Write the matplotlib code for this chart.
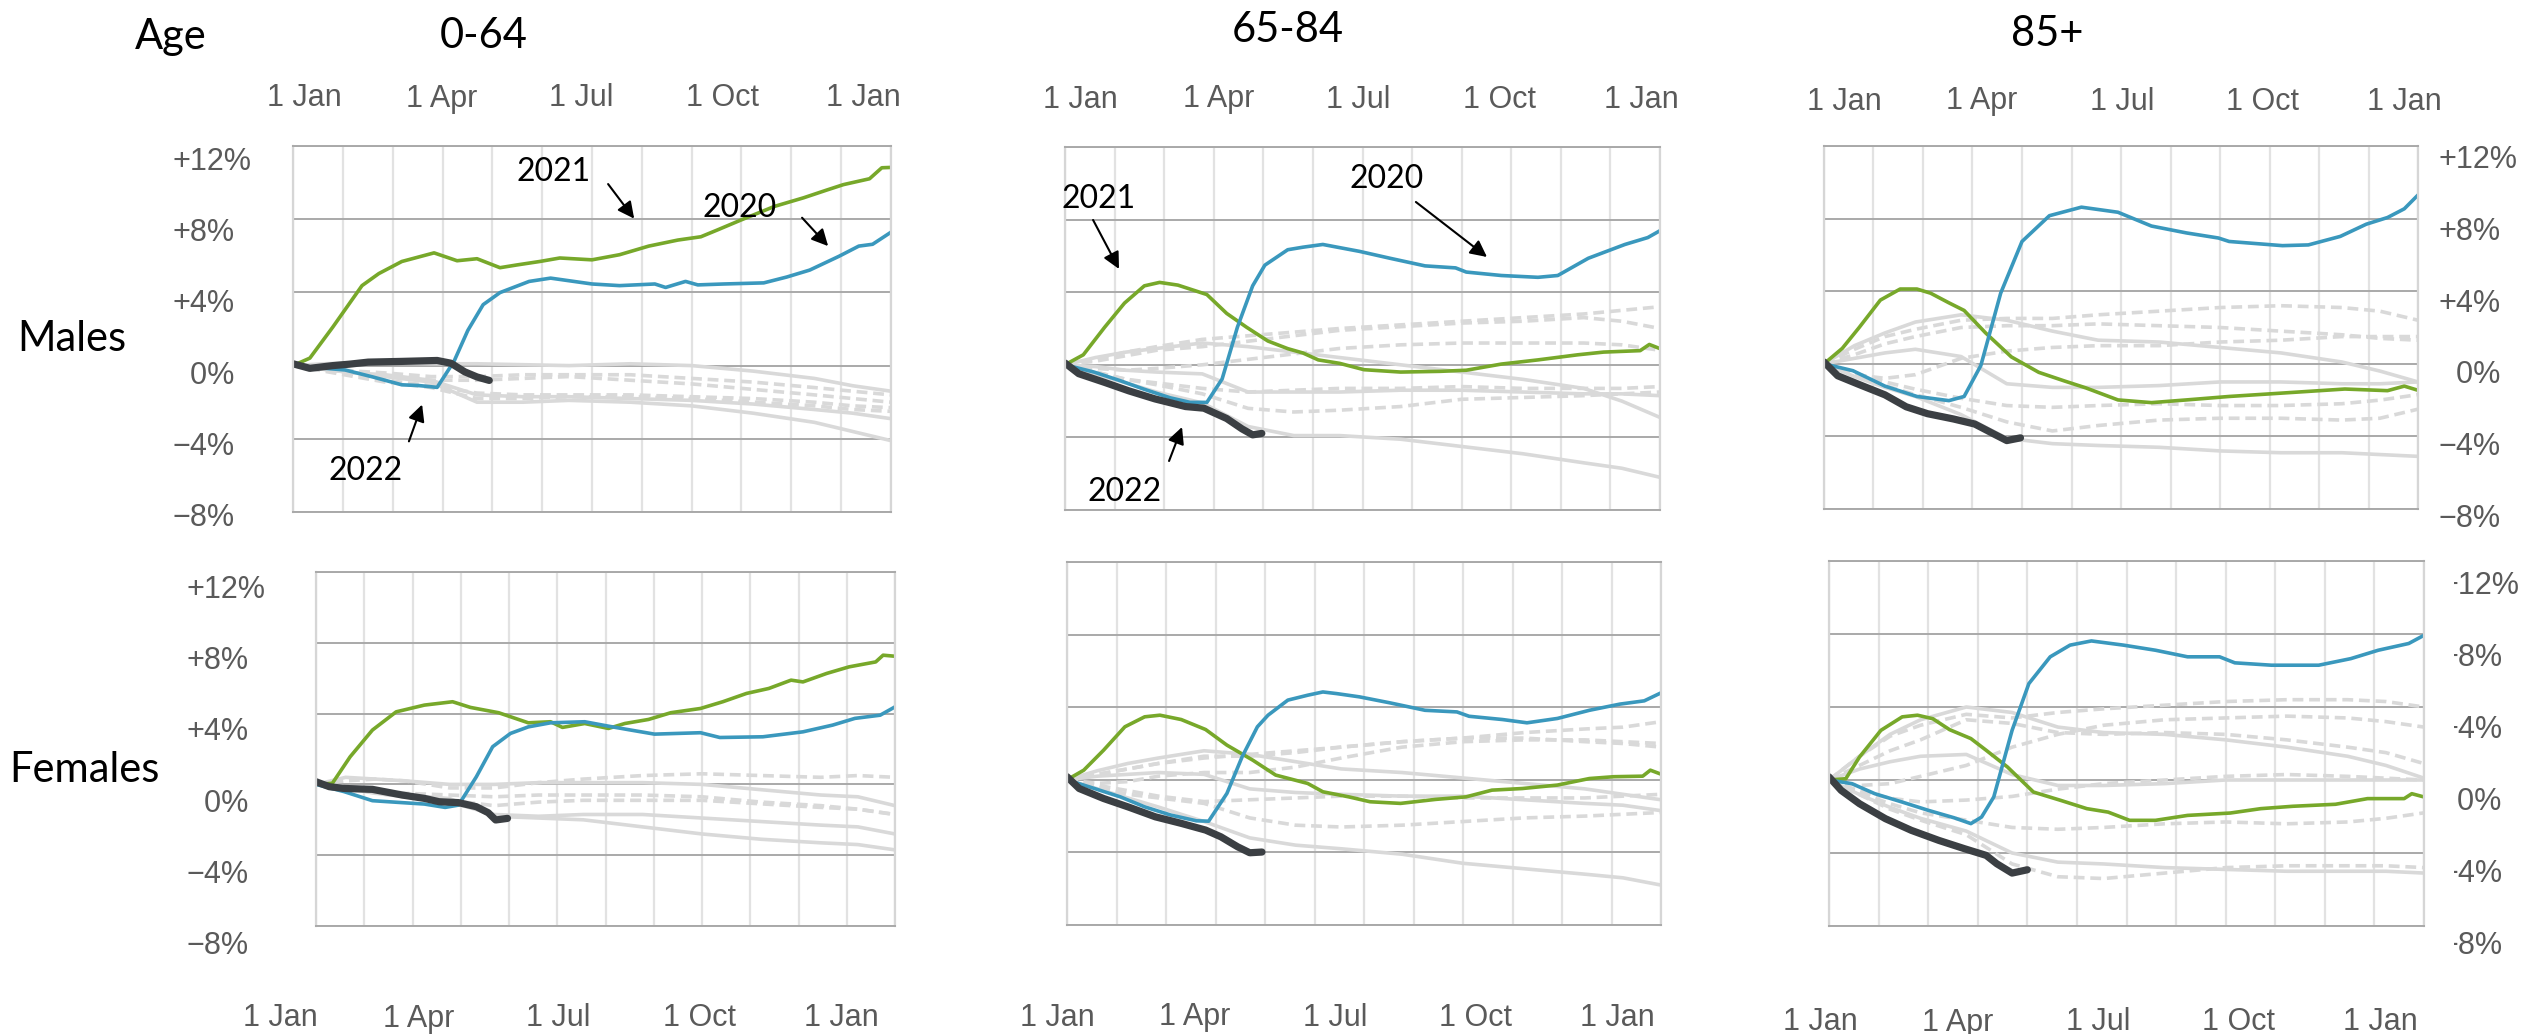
import numpy as np
import matplotlib
matplotlib.use("Agg")
import matplotlib.pyplot as plt
from matplotlib.transforms import Bbox

# Cumulative mortality, % difference from the start of each year.
# Main series are (days since 1 January, percent) pairs.

# ---------------- Males 0-64 ----------------
M064_2020 = [(0, 0.0), (34, -0.24), (52, -0.62), (71, -1.05), (82, -1.09), (94, -1.19), (105, 0.23),
             (114, 1.92), (124, 3.33), (135, 3.99), (154, 4.60), (168, 4.78), (195, 4.46), (213, 4.37),
             (236, 4.46), (243, 4.27), (256, 4.60), (264, 4.41), (281, 4.46), (307, 4.52), (322, 4.84),
             (337, 5.22), (356, 5.97), (369, 6.53), (378, 6.63), (390, 7.29)]
M064_2021 = [(0, 0.0), (11, 0.41), (26, 2.11), (45, 4.37), (56, 5.03), (71, 5.69), (92, 6.16), (107, 5.73),
             (120, 5.84), (135, 5.35), (146, 5.50), (161, 5.69), (174, 5.88), (195, 5.78), (213, 6.06),
             (232, 6.53), (251, 6.86), (266, 7.04), (277, 7.42), (292, 7.95), (314, 8.70), (333, 9.17),
             (348, 9.59), (359, 9.89), (376, 10.21), (384, 10.81), (390, 10.83)]
M064_2022 = [(0, 0.1), (11, -0.15), (26, 0.0), (37, 0.08), (49, 0.19), (71, 0.23), (94, 0.28), (103, 0.13),
             (112, -0.34), (120, -0.62), (128, -0.81)]

# ---------------- Males 65-84 ----------------
M6584_2020 = [(0, 0.0), (19, -0.40), (36, -0.87), (52, -1.35), (69, -1.82), (82, -2.07), (93, -2.07),
              (103, -0.78), (113, 2.07), (123, 4.35), (131, 5.49), (146, 6.34), (156, 6.48), (169, 6.63),
              (193, 6.25), (213, 5.87), (236, 5.45), (256, 5.34), (263, 5.11), (286, 4.92), (310, 4.82),
              (323, 4.92), (343, 5.87), (367, 6.63), (382, 7.01), (390, 7.39)]
M6584_2021 = [(0, 0.0), (12, 0.55), (26, 2.07), (39, 3.40), (52, 4.35), (62, 4.54), (74, 4.39), (93, 3.87),
              (106, 2.83), (119, 2.07), (133, 1.31), (146, 0.89), (156, 0.65), (166, 0.27), (180, 0.08),
              (196, -0.27), (220, -0.40), (246, -0.36), (263, -0.30), (286, 0.04), (310, 0.27), (336, 0.55),
              (353, 0.70), (377, 0.78), (383, 1.12), (390, 0.89)]
M6584_2022 = [(0, 0.1), (9, -0.49), (26, -0.97), (42, -1.44), (59, -1.88), (79, -2.30), (91, -2.39),
              (106, -2.96), (116, -3.53), (123, -3.86), (129, -3.78)]

# ---------------- Males 85+ ----------------
M85_2020 = [(0, 0.0), (19, -0.38), (40, -1.23), (61, -1.80), (82, -2.03), (92, -1.80), (103, -0.09),
            (116, 3.89), (130, 6.74), (148, 8.16), (169, 8.63), (193, 8.35), (215, 7.59), (238, 7.21),
            (259, 6.93), (266, 6.74), (301, 6.51), (318, 6.55), (339, 7.02), (356, 7.69), (370, 8.06),
            (381, 8.54), (390, 9.30)]
M85_2021 = [(0, 0.0), (12, 0.85), (23, 1.99), (37, 3.51), (50, 4.12), (61, 4.12), (70, 3.89), (82, 3.36),
            (92, 2.94), (106, 1.71), (123, 0.38), (141, -0.47), (158, -0.95), (172, -1.33), (193, -1.99),
            (215, -2.14), (238, -1.99), (266, -1.80), (294, -1.65), (318, -1.52), (342, -1.39),
            (370, -1.48), (381, -1.23), (390, -1.46)]
M85_2022 = [(0, 0.1), (9, -0.66), (23, -1.14), (40, -1.71), (54, -2.37), (68, -2.75), (85, -3.04),
            (99, -3.32), (113, -3.93), (120, -4.23), (129, -4.08)]

# ---------------- Females 0-64 ----------------
F064_2020 = [(0, 0.0), (19, -0.41), (38, -0.92), (58, -1.03), (73, -1.11), (87, -1.30), (96, -1.17),
             (108, 0.43), (119, 2.13), (131, 2.88), (143, 3.25), (158, 3.48), (181, 3.54), (197, 3.29),
             (212, 3.07), (228, 2.84), (259, 2.92), (272, 2.65), (301, 2.69), (328, 2.97), (348, 3.35),
             (363, 3.73), (380, 3.91), (390, 4.38)]
F064_2021 = [(0, 0.0), (11, 0.06), (23, 1.56), (38, 3.07), (54, 4.10), (73, 4.48), (92, 4.67), (104, 4.35),
             (123, 4.05), (143, 3.48), (158, 3.54), (166, 3.22), (181, 3.44), (197, 3.16), (208, 3.44),
             (224, 3.67), (239, 4.05), (259, 4.29), (274, 4.67), (290, 5.14), (305, 5.42), (320, 5.89),
             (328, 5.79), (344, 6.27), (359, 6.64), (377, 6.92), (382, 7.30), (390, 7.24)]
F064_2022 = [(0, 0.15), (9, -0.13), (19, -0.23), (38, -0.28), (58, -0.60), (73, -0.79), (83, -0.98),
             (96, -1.03), (108, -1.26), (116, -1.60), (121, -2.01), (129, -1.92)]

# ---------------- Females 65-84 ----------------
F6584_2020 = [(0, 0.0), (18, -0.48), (35, -0.94), (51, -1.49), (68, -1.94), (85, -2.26), (93, -2.28),
              (105, -0.75), (115, 1.27), (125, 2.92), (132, 3.56), (145, 4.39), (158, 4.66), (168, 4.84),
              (177, 4.75), (192, 4.57), (212, 4.24), (235, 3.83), (256, 3.74), (264, 3.50), (286, 3.32),
              (302, 3.14), (322, 3.38), (343, 3.83), (363, 4.17), (379, 4.35), (390, 4.79)]
F6584_2021 = [(0, 0.0), (11, 0.53), (24, 1.63), (38, 2.92), (51, 3.47), (61, 3.56), (75, 3.32), (91, 2.77),
              (105, 1.91), (122, 1.08), (137, 0.26), (158, -0.20), (168, -0.66), (185, -0.94), (199, -1.21),
              (219, -1.30), (242, -1.08), (262, -0.94), (279, -0.57), (299, -0.48), (322, -0.29),
              (343, 0.07), (359, 0.17), (378, 0.20), (383, 0.53), (390, 0.31)]
F6584_2022 = [(0, 0.17), (8, -0.48), (24, -1.03), (41, -1.52), (58, -2.04), (75, -2.40), (91, -2.77),
              (101, -3.14), (112, -3.69), (120, -4.02), (128, -3.98)]

# ---------------- Females 85+ ----------------
F85_2020 = [(0, 0.0), (15, -0.20), (30, -0.75), (48, -1.21), (65, -1.66), (82, -2.07), (93, -2.39),
            (100, -2.03), (108, -0.93), (120, 2.72), (131, 5.28), (145, 6.75), (158, 7.39), (172, 7.62),
            (193, 7.39), (214, 7.11), (235, 6.75), (256, 6.75), (266, 6.42), (290, 6.29), (321, 6.29),
            (342, 6.65), (360, 7.11), (380, 7.48), (390, 7.93)]
F85_2021 = [(0, 0.0), (11, 0.07), (20, 1.26), (34, 2.72), (48, 3.46), (58, 3.55), (68, 3.36), (79, 2.76),
            (93, 2.27), (103, 1.63), (117, 0.71), (134, -0.66), (152, -1.12), (169, -1.57), (183, -1.76),
            (197, -2.21), (214, -2.21), (235, -1.94), (263, -1.81), (283, -1.57), (304, -1.44),
            (332, -1.33), (353, -1.02), (377, -1.02), (382, -0.75), (390, -0.93)]
F85_2022 = [(0, 0.17), (8, -0.57), (20, -1.30), (37, -2.12), (54, -2.76), (72, -3.31), (89, -3.77),
            (103, -4.13), (110, -4.59), (120, -5.10), (130, -4.92)]

# Earlier years (grey), sampled on a common day grid
PAST_DAYS = [0, 20, 40, 60, 90, 120, 150, 180, 220, 260, 300, 340, 365, 390]

M064_PAST_SOLID = [
    [0, 0.1, 0.15, 0.15, 0.1, 0.1, 0.05, 0.0, 0.1, 0.0, -0.3, -0.7, -1.1, -1.4],
    [0, -0.2, -0.4, -0.6, -0.9, -2.0, -2.0, -1.9, -2.0, -2.2, -2.6, -3.1, -3.6, -4.1],
    [0, -0.2, -0.4, -0.5, -0.8, -1.6, -1.7, -1.7, -1.8, -1.9, -2.1, -2.4, -2.6, -2.9]]
M064_PAST_DASHED = [
    [0, -0.1, -0.3, -0.4, -0.6, -0.6, -0.5, -0.5, -0.5, -0.7, -0.9, -1.2, -1.4, -1.6],
    [0, -0.2, -0.4, -0.6, -0.8, -0.8, -0.7, -0.6, -0.8, -1.0, -1.3, -1.6, -1.8, -2.0],
    [0, -0.3, -0.6, -0.9, -1.2, -1.8, -1.8, -1.7, -1.7, -1.8, -2.0, -2.2, -2.4, -2.5],
    [0, -0.2, -0.5, -0.8, -1.1, -1.5, -1.6, -1.6, -1.6, -1.7, -1.8, -2.0, -2.2, -2.3]]

M6584_PAST_SOLID = [
    [0, 0.4, 0.7, 0.9, 1.2, 1.0, 0.7, 0.4, 0.0, -0.4, -0.8, -1.3, -2.0, -2.9],
    [0, -0.1, -0.3, -0.4, -0.5, -1.5, -1.5, -1.5, -1.4, -1.4, -1.5, -1.6, -1.6, -1.7],
    [0, -0.5, -1.0, -1.5, -2.1, -3.4, -3.9, -3.9, -4.1, -4.5, -4.9, -5.4, -5.7, -6.2]]
M6584_PAST_DASHED = [
    [0, 0.3, 0.7, 1.0, 1.4, 1.6, 1.8, 2.0, 2.2, 2.4, 2.6, 2.8, 3.0, 3.2],
    [0, 0.2, 0.5, 0.8, 1.0, 1.3, 1.6, 1.9, 2.1, 2.3, 2.4, 2.6, 2.4, 2.0],
    [0, -0.2, -0.3, -0.2, 0.0, 0.3, 0.6, 0.9, 1.1, 1.2, 1.2, 1.2, 1.1, 0.8],
    [0, -0.4, -0.8, -1.0, -1.3, -1.5, -1.4, -1.3, -1.3, -1.2, -1.3, -1.3, -1.3, -1.2],
    [0, -0.4, -0.8, -1.1, -1.6, -2.4, -2.6, -2.5, -2.3, -1.9, -1.8, -1.7, -1.6, -1.5]]

M85_PAST_SOLID = [
    [0, 1.0, 1.7, 2.3, 2.7, 2.4, 1.8, 1.3, 1.2, 0.9, 0.6, 0.1, -0.4, -1.0],
    [0, 0.3, 0.6, 0.8, 0.4, -1.1, -1.3, -1.3, -1.2, -1.0, -1.0, -1.1, -1.1, -1.0],
    [0, -0.7, -1.3, -1.8, -2.8, -4.1, -4.4, -4.5, -4.6, -4.8, -4.9, -4.9, -5.0, -5.1]]
M85_PAST_DASHED = [
    [0, 0.8, 1.5, 1.9, 2.4, 2.5, 2.5, 2.7, 2.9, 3.1, 3.2, 3.1, 2.9, 2.4],
    [0, 0.5, 1.1, 1.5, 2.0, 2.1, 2.1, 2.2, 2.1, 2.0, 1.8, 1.6, 1.4, 1.3],
    [0, -0.6, -0.8, -0.6, 0.3, 0.7, 0.9, 1.0, 1.0, 1.2, 1.3, 1.5, 1.5, 1.5],
    [0, -0.5, -1.0, -1.4, -1.9, -2.3, -2.4, -2.3, -2.2, -2.3, -2.3, -2.2, -2.0, -1.7],
    [0, -0.6, -1.2, -1.7, -2.4, -3.2, -3.7, -3.4, -3.1, -3.0, -3.0, -3.1, -3.0, -2.5]]

F064_PAST_SOLID = [
    [0, 0.4, 0.3, 0.2, 0.0, 0.0, 0.1, 0.1, 0.1, 0.0, -0.3, -0.6, -0.7, -1.2],
    [0, -0.2, -0.4, -0.6, -0.8, -1.8, -1.9, -2.0, -2.4, -2.8, -3.1, -3.3, -3.4, -3.7],
    [0, -0.2, -0.5, -0.7, -1.0, -1.7, -1.8, -1.7, -1.7, -1.9, -2.1, -2.3, -2.4, -2.8]]
F064_PAST_DASHED = [
    [0, 0.2, 0.3, 0.2, -0.2, -0.2, 0.1, 0.3, 0.5, 0.6, 0.5, 0.4, 0.5, 0.4],
    [0, -0.1, -0.3, -0.5, -0.6, -0.7, -0.6, -0.6, -0.6, -0.7, -1.0, -1.2, -1.4, -1.7],
    [0, -0.2, -0.5, -0.7, -0.9, -1.2, -1.0, -0.9, -0.9, -0.9, -1.1, -1.3, -1.4, -1.7]]

F6584_PAST_SOLID = [
    [0, 0.5, 0.9, 1.2, 1.6, 1.4, 1.0, 0.6, 0.4, 0.1, -0.2, -0.5, -0.8, -1.1],
    [0, 0.2, 0.3, 0.4, 0.3, -0.5, -0.7, -0.8, -0.9, -0.9, -1.1, -1.3, -1.4, -1.7],
    [0, -0.5, -1.0, -1.5, -2.3, -3.2, -3.6, -3.8, -4.1, -4.6, -4.9, -5.2, -5.4, -5.8]]
F6584_PAST_DASHED = [
    [0, 0.3, 0.6, 0.9, 1.2, 1.4, 1.6, 1.8, 2.1, 2.3, 2.6, 2.8, 2.9, 3.2],
    [0, 0.3, 0.6, 0.9, 1.3, 1.3, 1.5, 1.8, 2.1, 2.3, 2.3, 2.1, 2.0, 1.8],
    [0, -0.2, -0.1, 0.2, 0.4, 0.4, 0.7, 1.2, 1.8, 2.1, 2.2, 2.2, 2.1, 2.0],
    [0, -0.4, -0.8, -1.0, -1.3, -2.1, -2.5, -2.6, -2.5, -2.3, -2.1, -2.0, -1.9, -1.8],
    [0, -0.3, -0.6, -0.9, -1.2, -1.1, -1.0, -0.9, -0.9, -1.0, -1.0, -1.0, -0.9, -0.8]]

F85_PAST_SOLID = [
    [0, 1.3, 2.5, 3.3, 4.0, 3.7, 2.9, 2.6, 2.5, 2.2, 1.8, 1.3, 0.8, 0.1],
    [0, 0.6, 1.0, 1.3, 1.4, 0.3, -0.3, -0.3, -0.2, 0.0, 0.0, 0.0, 0.0, 0.0],
    [0, -0.8, -1.5, -2.1, -2.8, -4.0, -4.5, -4.6, -4.8, -4.9, -5.0, -5.0, -5.0, -5.1]]
F85_PAST_DASHED = [
    [0, 1.3, 2.4, 3.0, 3.6, 3.4, 3.7, 3.9, 4.1, 4.3, 4.4, 4.4, 4.3, 4.0],
    [0, 0.8, 1.6, 2.2, 3.3, 3.1, 2.6, 2.5, 2.6, 2.5, 2.2, 1.8, 1.5, 0.9],
    [0, -0.3, -0.2, 0.2, 0.8, 1.8, 2.5, 3.0, 3.3, 3.4, 3.5, 3.4, 3.2, 2.9],
    [0, -0.6, -1.0, -1.2, -1.1, -0.9, -0.5, -0.2, 0.0, 0.2, 0.3, 0.2, 0.1, 0.0],
    [0, -0.7, -1.3, -1.8, -2.2, -2.6, -2.7, -2.6, -2.4, -2.3, -2.4, -2.3, -2.1, -1.8],
    [0, -0.8, -1.6, -2.2, -3.0, -4.6, -5.3, -5.4, -5.1, -4.8, -4.7, -4.7, -4.7, -4.8]]

VALUE_TICKS = [12, 8, 4, 0, -4, -8]
VALUE_LABELS = ["+12%", "+8%", "+4%", "\u20070%", "\u22124%", "\u22128%"]
DATE_TICK_DAYS = [0, 90, 181, 273, 365]
DATE_TICK_LABELS = ["1 Jan", "1 Apr", "1 Jul", "1 Oct", "1 Jan"]

# ---------------- styling ----------------
W, H = 2530, 1034
C2020 = "#3a98bd"
C2021 = "#77a82a"
C2022 = "#3b3f43"
CPAST = "#d9d9d9"
TICK_FONT = ["Liberation Sans", "DejaVu Sans"]
BIG_FONT = ["Lato", "DejaVu Sans"]
TICK_COLOR = "#5a5a5a"

fig = plt.figure(figsize=(W / 100, H / 100), dpi=100)
fig.patch.set_facecolor("white")


def px_axes(l, t, r, b):
    return fig.add_axes([l / W, 1 - b / H, (r - l) / W, (b - t) / H])


def draw_panel(rect, s2020, s2021, s2022, solid, dashed):
    ax = px_axes(*rect)
    ax.set_xlim(0, 390)
    ax.set_ylim(-8, 12)
    ax.set_xticks(np.linspace(0, 390, 13))
    ax.set_yticks(VALUE_TICKS)
    ax.tick_params(length=0, labelbottom=False, labelleft=False)
    ax.grid(axis="x", color="#e2e2e2", lw=1.6)
    ax.grid(axis="y", color="#a9a9a9", lw=1.4)
    ax.set_axisbelow(True)
    for side in ("left", "right"):
        ax.spines[side].set_color("#d6d6d6")
        ax.spines[side].set_linewidth(1.6)
    for side in ("top", "bottom"):
        ax.spines[side].set_color("#a9a9a9")
        ax.spines[side].set_linewidth(1.4)
    for ys in solid:
        ax.plot(PAST_DAYS, ys, color=CPAST, lw=2.6, solid_joinstyle="round")
    for ys in dashed:
        ax.plot(PAST_DAYS, ys, color=CPAST, lw=2.6, dashes=(3, 1.6))
    for series, color, lw in ((s2021, C2021, 2.6), (s2020, C2020, 2.6), (s2022, C2022, 5.2)):
        d, v = zip(*series)
        ax.plot(d, v, color=color, lw=lw, solid_capstyle="round", solid_joinstyle="round")
    return ax


def value_labels(x_left, y_top, y_bot, clip_left=None):
    lab = fig.add_axes([x_left / W, 1 - y_bot / H, 1e-4, (y_bot - y_top) / H])
    lab.set_ylim(-8, 12)
    lab.axis("off")
    for v, s in zip(VALUE_TICKS, VALUE_LABELS):
        t = lab.text(0, v, s, transform=lab.get_yaxis_transform(), ha="left",
                     va="center_baseline", fontsize=22, color=TICK_COLOR, family=TICK_FONT)
        if clip_left is not None:
            t.set_clip_path(None)
            t.set_clip_box(Bbox.from_extents(clip_left, 0, W, H))
            t.set_clip_on(True)


def date_labels(x_first, x_last, y):
    lab = fig.add_axes([x_first / W, 1 - y / H, (x_last - x_first) / W, 1e-4])
    lab.set_xlim(0, 365)
    lab.axis("off")
    for d, s in zip(DATE_TICK_DAYS, DATE_TICK_LABELS):
        lab.text(d, 0, s, transform=lab.get_xaxis_transform(), ha="center",
                 va="center_baseline", fontsize=22, color=TICK_COLOR, family=TICK_FONT)


def big_text(x, y, s, ha="center"):
    fig.text(x / W, 1 - y / H, s, ha=ha, va="center_baseline", fontsize=30,
             color="black", family=BIG_FONT)


def note(ax, s, text_xy, tail, head):
    ax.text(*text_xy, s, ha="center", va="center_baseline", fontsize=23,
            color="black", family=BIG_FONT)
    ax.annotate("", xy=head, xytext=tail, annotation_clip=False,
                arrowprops=dict(arrowstyle="-|>,head_length=0.5,head_width=0.25",
                                mutation_scale=20, color="black", lw=1.5,
                                shrinkA=0, shrinkB=0))


# ---------------- panels ----------------
ax1 = draw_panel((293, 146, 891, 512), M064_2020, M064_2021, M064_2022, M064_PAST_SOLID, M064_PAST_DASHED)
ax2 = draw_panel((1065, 147, 1660, 510), M6584_2020, M6584_2021, M6584_2022, M6584_PAST_SOLID, M6584_PAST_DASHED)
ax3 = draw_panel((1824, 146, 2418, 509), M85_2020, M85_2021, M85_2022, M85_PAST_SOLID, M85_PAST_DASHED)
ax4 = draw_panel((316, 572, 895, 926), F064_2020, F064_2021, F064_2022, F064_PAST_SOLID, F064_PAST_DASHED)
ax5 = draw_panel((1067, 562, 1661, 925), F6584_2020, F6584_2021, F6584_2022, F6584_PAST_SOLID, F6584_PAST_DASHED)
ax6 = draw_panel((1829, 561, 2424, 926), F85_2020, F85_2021, F85_2022, F85_PAST_SOLID, F85_PAST_DASHED)

# value axes
value_labels(173, 158, 515)
value_labels(2439, 157, 515)
value_labels(187, 586, 943)
value_labels(2440, 583, 942, clip_left=2454)

# date axes
date_labels(304, 863, 95)
date_labels(1080, 1641, 96)
date_labels(1844, 2404, 98)
date_labels(280, 841, 1015)
date_labels(1057, 1617, 1014)
date_labels(1820, 2380, 1019)

# headings
big_text(171, 34, "Age")
big_text(484, 33, "0-64")
big_text(1288, 27, "65-84")
big_text(2047, 30, "85+")
big_text(17, 336, "Males", ha="left")
big_text(9, 767, "Females", ha="left")

# year call-outs
note(ax1, "2021", (170, 10.75), (205.5, 9.92), (222.5, 8.03))
note(ax1, "2020", (291, 8.78), (332, 8.08), (349, 6.53))
note(ax1, "2022", (47, -5.6), (75.6, -4.14), (84.2, -2.13))
note(ax2, "2021", (22.3, 9.30), (18.4, 7.98), (35.4, 5.28))
note(ax2, "2020", (211, 10.40), (230, 8.97), (276.6, 5.94))
note(ax2, "2022", (39.3, -6.84), (68.2, -5.30), (76.7, -3.43))

fig.savefig("out.png", dpi=100, facecolor="white")
